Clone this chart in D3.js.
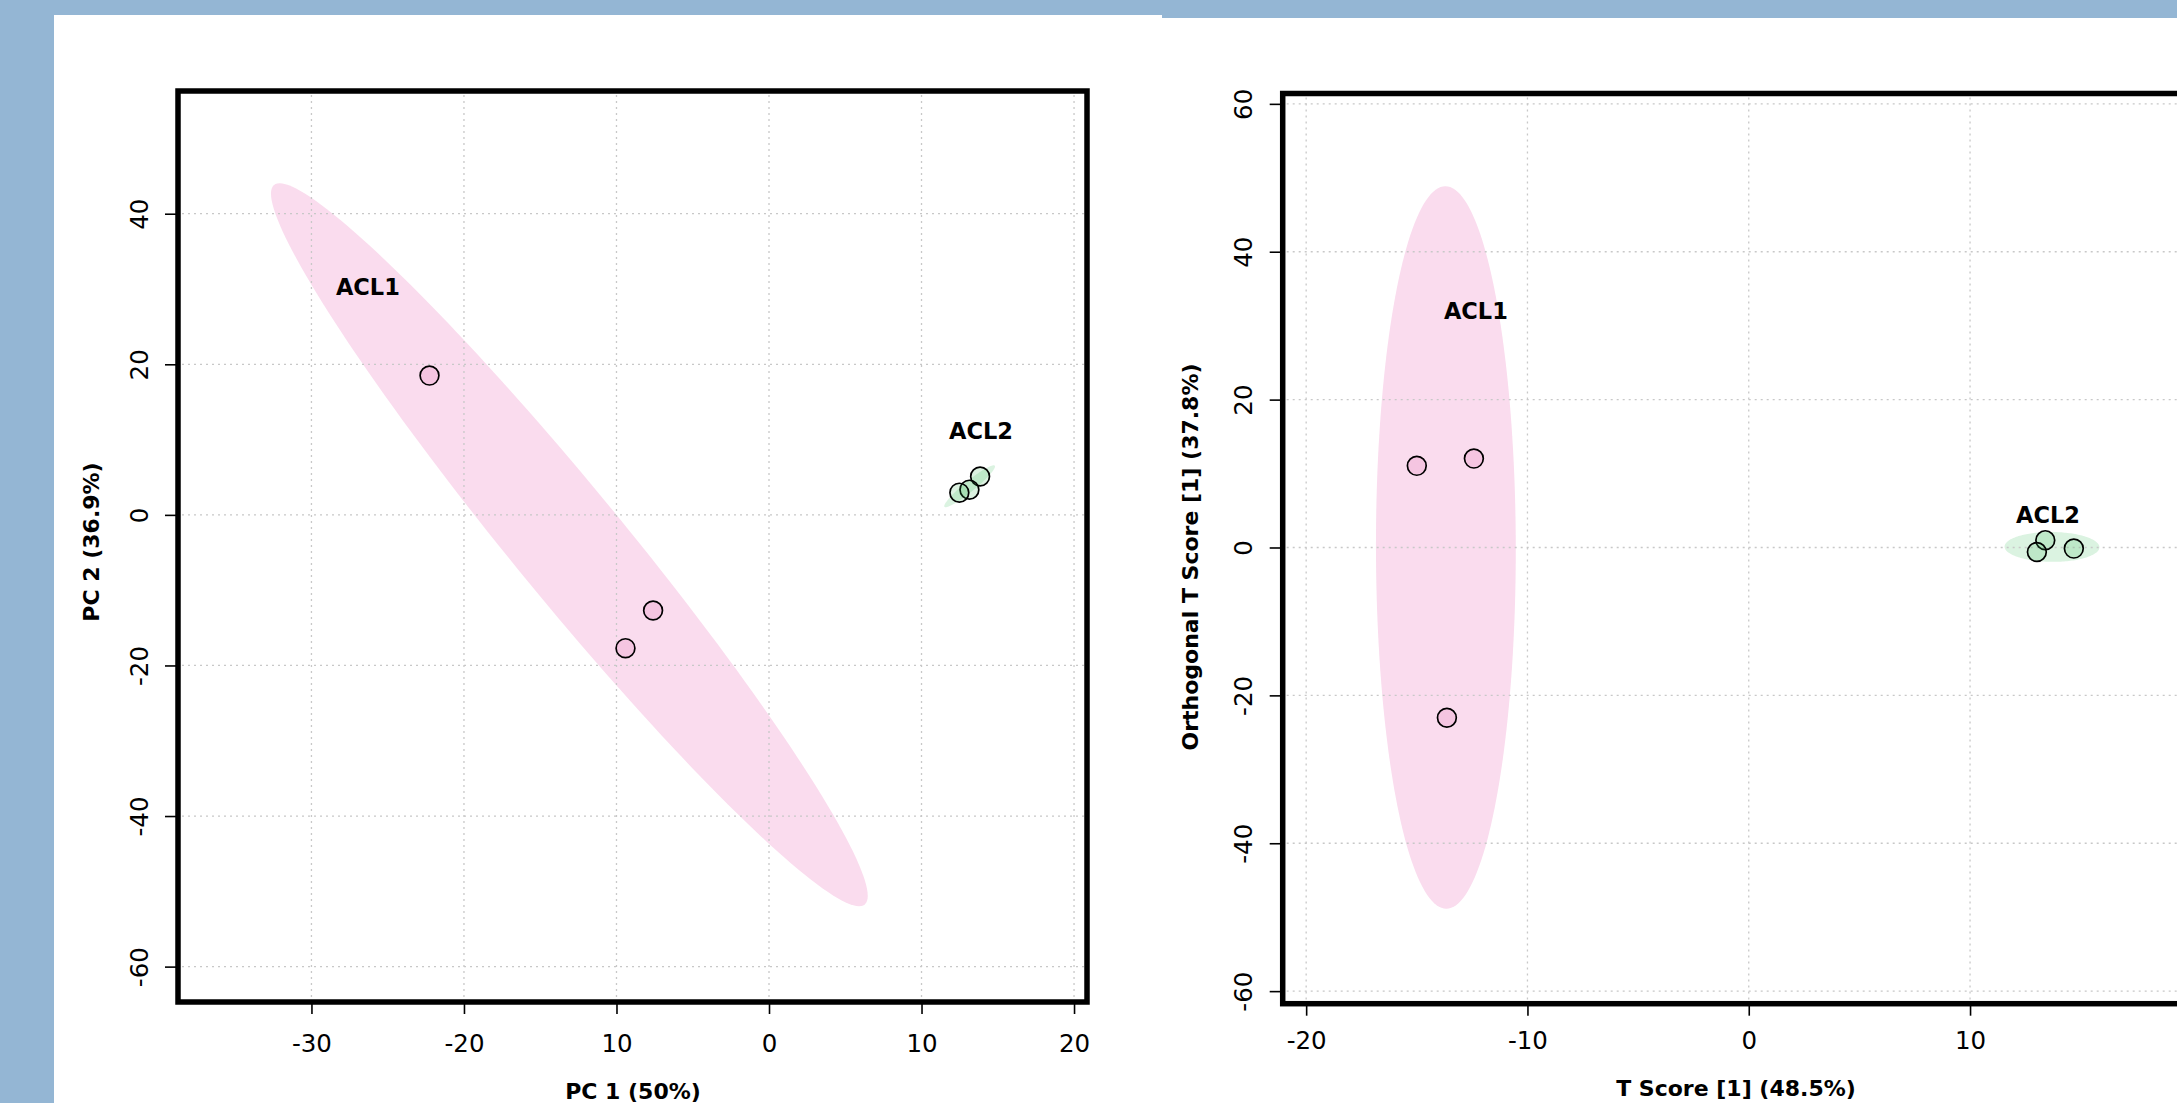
<!DOCTYPE html>
<html><head><meta charset="utf-8">
<script src="https://cdn.jsdelivr.net/npm/d3@7"></script>
<style>html,body{margin:0;padding:0;background:#94b6d4;overflow:hidden}svg{display:block}</style>
</head><body>
<svg id="chart" width="2177" height="1103"></svg>
<script>
// ---------------- data ----------------
const groups = ["ACL1", "ACL2"];

// PCA scores (left panel)
const pcaGroup = ["ACL1", "ACL1", "ACL1", "ACL2", "ACL2", "ACL2"];
const pcaX = [-22.26, -7.6, -9.41, 13.84, 13.14, 12.48];
const pcaY = [18.5, -12.7, -17.7, 5.09, 3.35, 2.95];
const pcaXTicks = [-30, -20, -10, 0, 10, 20];
const pcaXTickLabels = ["-30", "-20", "10", "0", "10", "20"];
const pcaYTicks = [-60, -40, -20, 0, 20, 40];
const pcaYTickLabels = ["-60", "-40", "-20", "0", "20", "40"];
const pcaLabelX = [-26.3, 13.9];
const pcaLabelY = [29.2, 10.05];
const pcaXTitle = "PC 1 (50%)";
const pcaYTitle = "PC 2 (36.9%)";

// OPLS-DA scores (right panel)
const oplsGroup = ["ACL1", "ACL1", "ACL1", "ACL2", "ACL2", "ACL2"];
const oplsX = [-15.0, -12.42, -13.64, 13.40, 13.02, 14.69];
const oplsY = [11.04, 12.02, -23.03, 0.99, -0.61, -0.15];
const oplsXTicks = [-20, -10, 0, 10];
const oplsXTickLabels = ["-20", "-10", "0", "10"];
const oplsYTicks = [-60, -40, -20, 0, 20, 40, 60];
const oplsYTickLabels = ["-60", "-40", "-20", "0", "20", "40", "60"];
const oplsLabelX = [-12.33, 13.52];
const oplsLabelY = [30.9, 3.29];
const oplsXTitle = "T Score [1] (48.5%)";
const oplsYTitle = "Orthogonal T Score [1] (37.8%)";

const confLevel = 0.95;

// ---------------- styles ----------------
const ellipseFill = {ACL1: "#fadcee", ACL2: "#dbf3e1"};
const pointFill = {ACL1: "#e0409a", ACL2: "#30b050"};
const pointOpacity = {ACL1: 0.15, ACL2: 0.17};
const TICK_FONT = "'DejaVu Sans', sans-serif";
const BOLD_FONT = "'DejaVu Sans', sans-serif";
const TICK_SIZE = 24.5;

const svg = d3.select("#chart");

// background panels
svg.append("rect").attr("x", 54).attr("y", 15).attr("width", 1108).attr("height", 1088).attr("fill", "#fff");
svg.append("rect").attr("x", 1162).attr("y", 18).attr("width", 1015).attr("height", 1085).attr("fill", "#fff");

function ellipsePoints(xs, ys, n) {
  const mx = d3.mean(xs), my = d3.mean(ys);
  const vx = d3.variance(xs), vy = d3.variance(ys);
  const cxy = d3.sum(xs.map((v, i) => (v - mx) * (ys[i] - my))) / (xs.length - 1);
  const tr = vx + vy, det = vx * vy - cxy * cxy;
  const disc = Math.sqrt(Math.max(0, tr * tr / 4 - det));
  const l1 = tr / 2 + disc, l2 = Math.max(0, tr / 2 - disc);
  const a = Math.atan2(l1 - vx, cxy);
  const t = Math.sqrt(-2 * Math.log(1 - confLevel));
  const s1 = t * Math.sqrt(l1), s2 = t * Math.sqrt(l2);
  const out = [];
  for (let k = 0; k <= n; k++) {
    const th = 2 * Math.PI * k / n;
    out.push([
      mx + s1 * Math.cos(a) * Math.cos(th) - s2 * Math.sin(a) * Math.sin(th),
      my + s1 * Math.sin(a) * Math.cos(th) + s2 * Math.cos(a) * Math.sin(th)
    ]);
  }
  return out;
}

function panel(cfg) {
  const x = d3.scaleLinear().domain(cfg.xDomain).range([cfg.x0, cfg.x1]);
  const y = d3.scaleLinear().domain(cfg.yDomain).range([cfg.y1, cfg.y0]);
  const g = svg.append("g");
  const clipId = "clip" + cfg.id;
  g.append("clipPath").attr("id", clipId).append("rect")
    .attr("x", cfg.x0).attr("y", cfg.y0).attr("width", cfg.x1 - cfg.x0).attr("height", cfg.y1 - cfg.y0);
  const inner = g.append("g").attr("clip-path", `url(#${clipId})`);

  // ellipses
  const line = d3.line().x(d => x(d[0])).y(d => y(d[1]));
  groups.forEach(gr => {
    const idx = cfg.grp.map((v, i) => v === gr ? i : -1).filter(i => i >= 0);
    const pts = ellipsePoints(idx.map(i => cfg.xs[i]), idx.map(i => cfg.ys[i]), 180);
    inner.append("path").attr("d", line(pts)).attr("fill", ellipseFill[gr]).attr("stroke", "none");
  });

  // grid
  inner.selectAll(".vg").data(cfg.xTicks).join("line")
    .attr("x1", d => x(d)).attr("x2", d => x(d)).attr("y1", cfg.y0 + 4).attr("y2", cfg.y1)
    .attr("stroke", "#c8c8c8").attr("stroke-width", 1.3).attr("stroke-dasharray", "2,4");
  inner.selectAll(".hg").data(cfg.yTicks).join("line")
    .attr("y1", d => y(d)).attr("y2", d => y(d)).attr("x1", cfg.x0 + 4).attr("x2", cfg.x1)
    .attr("stroke", "#c8c8c8").attr("stroke-width", 1.3).attr("stroke-dasharray", "2,4");

  // points
  inner.selectAll(".pt").data(cfg.xs.map((v, i) => i)).join("circle")
    .attr("cx", i => x(cfg.xs[i])).attr("cy", i => y(cfg.ys[i])).attr("r", 9.4)
    .attr("fill", i => pointFill[cfg.grp[i]]).attr("fill-opacity", i => pointOpacity[cfg.grp[i]])
    .attr("stroke", "#000").attr("stroke-width", 1.7);

  // group labels
  inner.selectAll(".lab").data(groups).join("text")
    .attr("x", (d, i) => x(cfg.labX[i])).attr("y", (d, i) => y(cfg.labY[i]))
    .attr("text-anchor", "middle").attr("font-family", BOLD_FONT).attr("font-weight", "bold")
    .attr("font-size", 22.5).attr("fill", "#000").text(d => d);

  // axes
  const gx = g.append("g").attr("transform", `translate(0,${cfg.y1})`)
    .call(d3.axisBottom(x).tickValues(cfg.xTicks).tickFormat((d, i) => cfg.xTickLabels[i]).tickSize(12));
  gx.select(".domain").remove();
  gx.selectAll(".tick line").attr("stroke", "#000").attr("stroke-width", 1.6);
  gx.selectAll(".tick text").attr("y", cfg.xLabBase - cfg.y1).attr("dy", null)
    .attr("font-family", TICK_FONT).attr("font-size", TICK_SIZE).attr("fill", "#000");

  const gy = g.append("g").attr("transform", `translate(${cfg.x0},0)`)
    .call(d3.axisLeft(y).tickValues(cfg.yTicks).tickFormat((d, i) => cfg.yTickLabels[i]).tickSize(13));
  gy.select(".domain").remove();
  gy.selectAll(".tick line").attr("stroke", "#000").attr("stroke-width", 1.6);
  gy.selectAll(".tick text").attr("x", null).attr("dy", null)
    .attr("transform", `translate(${cfg.yLabBase - cfg.x0},0) rotate(-90)`)
    .attr("text-anchor", "middle")
    .attr("font-family", TICK_FONT).attr("font-size", TICK_SIZE).attr("fill", "#000");

  // frame
  g.append("rect").attr("x", cfg.x0).attr("y", cfg.y0).attr("width", cfg.x1 - cfg.x0).attr("height", cfg.y1 - cfg.y0)
    .attr("fill", "none").attr("stroke", "#000").attr("stroke-width", 5.5);

  // titles
  g.append("text").attr("x", cfg.xTitleX).attr("y", cfg.xTitleBase).attr("text-anchor", "middle")
    .attr("font-family", BOLD_FONT).attr("font-weight", "bold").attr("font-size", 22).attr("fill", "#000")
    .text(cfg.xTitle);
  g.append("text").attr("transform", `translate(${cfg.yTitleBase},${cfg.yTitleY}) rotate(-90)`)
    .attr("text-anchor", "middle")
    .attr("font-family", BOLD_FONT).attr("font-weight", "bold").attr("font-size", 22).attr("fill", "#000")
    .text(cfg.yTitle);
}

panel({
  id: "pca", x0: 178, x1: 1087, y0: 91, y1: 1002,
  xDomain: [-38.75, 20.85], yDomain: [-64.7, 56.3],
  xs: pcaX, ys: pcaY, grp: pcaGroup,
  xTicks: pcaXTicks, xTickLabels: pcaXTickLabels, yTicks: pcaYTicks, yTickLabels: pcaYTickLabels,
  labX: pcaLabelX, labY: pcaLabelY,
  xLabBase: 1051.5, yLabBase: 148,
  xTitle: pcaXTitle, xTitleX: 633, xTitleBase: 1099,
  yTitle: pcaYTitle, yTitleBase: 99, yTitleY: 542
});

panel({
  id: "opls", x0: 1282.7, x1: 2214.8, y0: 93.5, y1: 1003.7,
  xDomain: [-21.06, 21.06], yDomain: [-61.7, 61.4],
  xs: oplsX, ys: oplsY, grp: oplsGroup,
  xTicks: oplsXTicks, xTickLabels: oplsXTickLabels, yTicks: oplsYTicks, yTickLabels: oplsYTickLabels,
  labX: oplsLabelX, labY: oplsLabelY,
  xLabBase: 1049.3, yLabBase: 1251.5,
  xTitle: oplsXTitle, xTitleX: 1736, xTitleBase: 1096,
  yTitle: oplsYTitle, yTitleBase: 1198, yTitleY: 557
});
</script>
</body></html>
